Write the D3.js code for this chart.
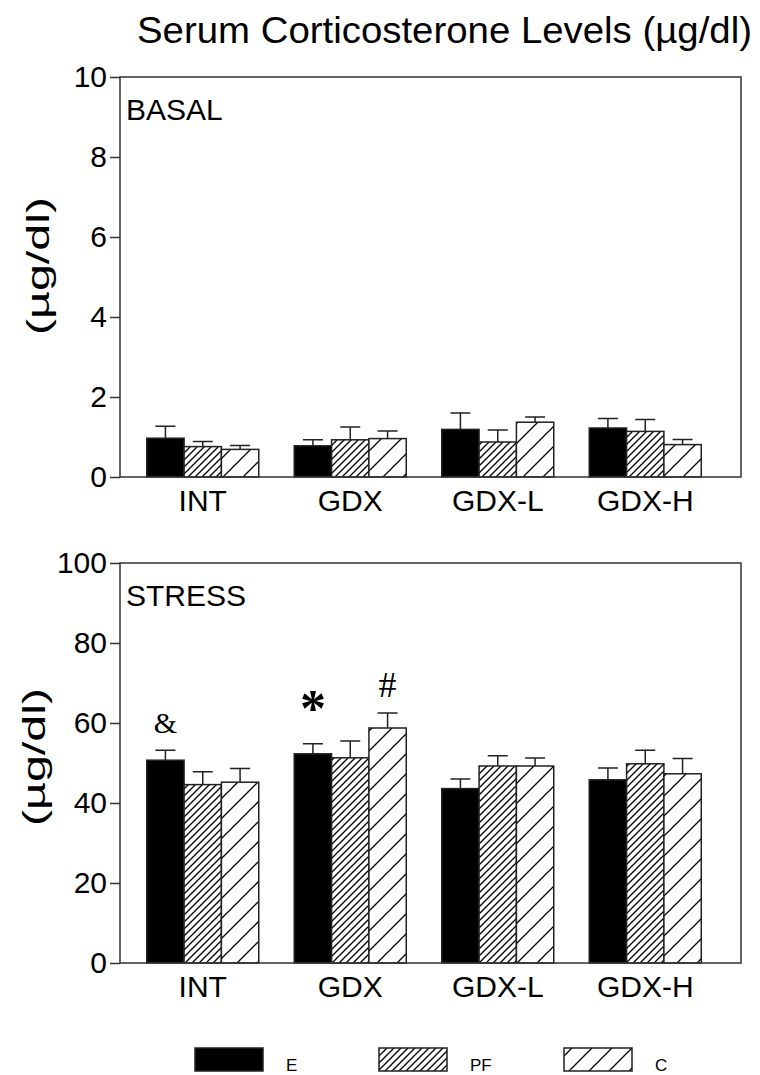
<!DOCTYPE html>
<html>
<head>
<meta charset="utf-8">
<script src="https://cdn.jsdelivr.net/npm/d3@7"></script>
<style>
  body { margin: 0; background: #fff; }
  text { font-family: "Liberation Sans", Arial, sans-serif; fill: #000; }
</style>
</head>
<body>
<svg id="chart" width="760" height="1075"></svg>
<script>
// groups and series
const groups = ["INT", "GDX", "GDX-L", "GDX-H"];
const series = ["E", "PF", "C"];

// basal values (mean, upper error) in ug/dl
const basalMean = [[0.97, 0.76, 0.69], [0.78, 0.93, 0.96], [1.19, 0.875, 1.37], [1.225, 1.14, 0.81]];
const basalErr  = [[0.30, 0.13, 0.10], [0.15, 0.32, 0.19], [0.41, 0.30, 0.13], [0.235, 0.30, 0.13]];

// stress values
const stressMean = [[50.7, 44.6, 45.2], [52.3, 51.3, 58.75], [43.6, 49.25, 49.25], [45.8, 49.8, 47.3]];
const stressErr  = [[2.5, 3.2, 3.4], [2.5, 4.2, 3.75], [2.4, 2.55, 2.0], [2.95, 3.4, 3.8]];

const basalTicks = [0, 2, 4, 6, 8, 10];
const stressTicks = [0, 20, 40, 60, 80, 100];

// significance marks: [group, series, symbol]
const marks = [["INT", "E", "&"], ["GDX", "E", "*"], ["GDX", "C", "#"]];

var svg = d3.select("#chart")
var defs = svg.append("defs")

function hatch(id, s){
  var p = defs.append("pattern")
    .attr("id", id)
    .attr("patternUnits", "userSpaceOnUse")
    .attr("width", s).attr("height", s)
  p.append("rect").attr("width", s).attr("height", s).attr("fill", "#fff")
  p.append("path")
    .attr("d", "M-1,1 l2,-2 M0," + s + " l" + s + ",-" + s + " M" + (s-1) + "," + (s+1) + " l2,-2")
    .attr("stroke", "#000").attr("stroke-width", 1.3)
}
hatch("hatchPF", 7)
hatch("hatchC", 20)

var fills = {E: "#000", PF: "url(#hatchPF)", C: "url(#hatchC)"}

const left = 120, right = 741

var x0 = d3.scaleBand().domain(groups).range([129, 719]).paddingInner(0).paddingOuter(0)
var x1 = d3.scaleBand().domain(series).range([0, 112])

function panel(top, bottom, maxV, ticks, means, errs, label, labelY, labelX, withMarks){
  var y = d3.scaleLinear().domain([0, maxV]).range([bottom, top])
  var g = svg.append("g")

  var rows = []
  groups.forEach(function(gr, i){
    series.forEach(function(s, j){
      rows.push({group: gr, series: s, v: means[i][j], e: errs[i][j]})
    })
  })

  function bx(d){ return x0(d.group) + (x0.bandwidth() - 112) / 2 + x1(d.series) }

  // error bars (upper only)
  g.selectAll(".err").data(rows).enter().append("path")
    .attr("d", function(d){
      var cx = bx(d) + x1.bandwidth() / 2
      return "M" + cx + "," + y(d.v) + "V" + y(d.v + d.e) + "M" + (cx - 10) + "," + y(d.v + d.e) + "H" + (cx + 10)
    })
    .attr("stroke", "#222").attr("stroke-width", 1.5).attr("fill", "none")

  g.selectAll(".bar").data(rows).enter().append("rect")
    .attr("x", bx)
    .attr("y", function(d){ return y(d.v) })
    .attr("width", x1.bandwidth())
    .attr("height", function(d){ return bottom - y(d.v) })
    .attr("fill", function(d){ return fills[d.series] })
    .attr("stroke", "#222").attr("stroke-width", 1.5)

  // frame
  g.append("rect")
    .attr("x", left).attr("y", top).attr("width", right - left).attr("height", bottom - top)
    .attr("fill", "none").attr("stroke", "#333").attr("stroke-width", 1.5)

  var ax = g.append("g").attr("transform", "translate(" + left + ",0)")
    .call(d3.axisLeft(y).tickValues(ticks).tickSize(10).tickPadding(3).tickSizeOuter(0))
  ax.select(".domain").remove()
  ax.selectAll("line").attr("stroke", "#333").attr("stroke-width", 1.5)
  ax.selectAll("text").style("font-size", "30px").attr("fill", "#000")

  var bx2 = g.append("g").attr("transform", "translate(0," + bottom + ")")
    .call(d3.axisBottom(x0).tickSize(0).tickPadding(13))
  bx2.select(".domain").remove()
  bx2.selectAll("text").style("font-size", "30px").attr("fill", "#000")

  g.append("text")
    .attr("x", left + 6).attr("y", top + 43)
    .style("font-size", "30px")
    .text(label)

  g.append("text")
    .attr("transform", "translate(" + labelX + "," + labelY + ") rotate(-90)")
    .attr("text-anchor", "middle")
    .attr("textLength", 138).attr("lengthAdjust", "spacingAndGlyphs")
    .style("font-size", "31px")
    .text("(µg/dl)")

  if(withMarks){
    marks.forEach(function(m){
      var d = rows.find(function(r){ return r.group == m[0] && r.series == m[1] })
      var cx = bx(d) + x1.bandwidth() / 2
      var t = g.append("text")
        .attr("x", cx).attr("text-anchor", "middle")
        .style("font-family", "'Liberation Serif', 'Times New Roman', serif")
        .text(m[2])
      if(m[2] == "*"){
        t.attr("y", y(d.v + d.e) - 18).style("font-size", "52px").style("font-weight", "bold")
      } else if(m[2] == "#"){
        t.attr("y", y(d.v + d.e) - 16).style("font-size", "36px")
      } else {
        t.attr("y", y(d.v + d.e) - 17).style("font-size", "30px")
      }
    })
  }
}

panel(77, 477, 10, basalTicks, basalMean, basalErr, "BASAL", 266, 49, false)
panel(563, 963, 100, stressTicks, stressMean, stressErr, "STRESS", 757, 45, true)

// title
svg.append("text")
  .attr("x", 137).attr("y", 43)
  .attr("textLength", 615).attr("lengthAdjust", "spacingAndGlyphs")
  .style("font-size", "36px")
  .text("Serum Corticosterone Levels (µg/dl)")

// legend
var legendX = [195, 379, 564]
var lg = svg.append("g")
series.forEach(function(s, i){
  lg.append("rect")
    .attr("x", legendX[i]).attr("y", 1048).attr("width", 68).attr("height", 23)
    .attr("fill", fills[s]).attr("stroke", "#222").attr("stroke-width", 1.5)
  lg.append("text")
    .attr("x", legendX[i] + 91).attr("y", 1071)
    .style("font-size", "17px")
    .text(s)
})
</script>
</body>
</html>
